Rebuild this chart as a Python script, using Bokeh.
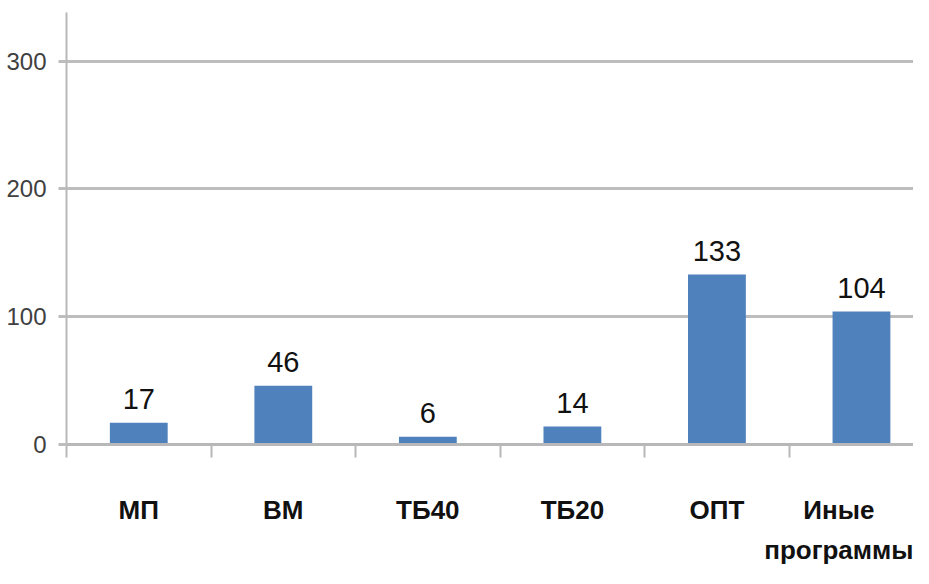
from bokeh.plotting import figure
from bokeh.models import ColumnDataSource, Range1d, FixedTicker
from bokeh.core.properties import value
from bokeh.embed import file_html
from bokeh.resources import INLINE

categories = ["МП", "ВМ", "ТБ40", "ТБ20", "ОПТ", "Иные\nпрограммы"]
counts = [17, 46, 6, 14, 133, 104]
y_ticks = [0, 100, 200, 300]

FONT = "Liberation Sans"

xpos = [i + 0.5 for i in range(len(categories))]
src = ColumnDataSource(dict(x=xpos, top=counts, label=[str(c) for c in counts]))

p = figure(width=913, height=568, output_backend="svg", toolbar_location=None,
           x_range=Range1d(0, 5.86), y_range=Range1d(0, 338),
           min_border_left=66, min_border_right=0, min_border_top=12, min_border_bottom=122)
p.outline_line_color = None
p.background_fill_color = "white"

p.vbar(x="x", top="top", width=0.4, bottom=0, source=src, fill_color="#4f81bd", line_color=None)
p.text(x="x", y="top", text="label", source=src, text_align="center", text_baseline="alphabetic",
       y_offset=-24, text_font=value(FONT), text_font_size="29px", text_color="#111111")

# grid
p.xgrid.visible = False
p.ygrid.ticker = FixedTicker(ticks=y_ticks)
p.ygrid.grid_line_color = "#bdbdbd"
p.ygrid.grid_line_width = 3

# y axis
ya = p.yaxis[0]
ya.ticker = FixedTicker(ticks=y_ticks)
ya.axis_line_color = "#b8b8b8"
ya.axis_line_width = 2
ya.major_tick_out = 8
ya.major_tick_in = 0
ya.major_tick_line_color = "#bdbdbd"
ya.major_tick_line_width = 3
ya.minor_tick_line_color = None
ya.major_label_standoff = 12
ya.major_label_text_font = FONT
ya.major_label_text_font_size = "24px"
ya.major_label_text_color = "#404040"

# x axis
xa = p.xaxis[0]
xa.ticker = FixedTicker(ticks=xpos, minor_ticks=list(range(len(categories) + 1)))
xa.major_label_overrides = {x: c for x, c in zip(xpos, categories)}
xa.axis_line_color = "#b8b8b8"
xa.axis_line_width = 3
xa.major_tick_line_color = None
xa.minor_tick_out = 13
xa.minor_tick_in = 0
xa.minor_tick_line_color = "#b8b8b8"
xa.minor_tick_line_width = 2
xa.major_label_standoff = 37
xa.major_label_text_font = FONT
xa.major_label_text_font_style = "bold"
xa.major_label_text_font_size = "26px"
xa.major_label_text_color = "#111111"
xa.major_label_text_line_height = 1.35

open("out.html", "w").write(file_html(p, INLINE))
